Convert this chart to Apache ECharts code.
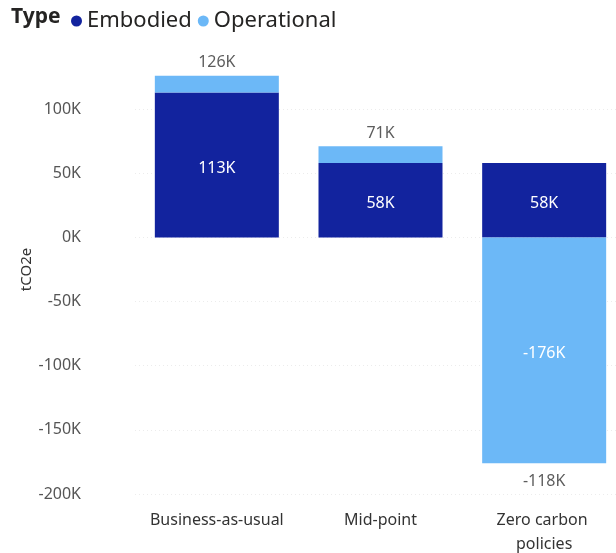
<!DOCTYPE html>
<html>
<head>
<meta charset="utf-8">
<script src="https://cdn.jsdelivr.net/npm/echarts@6/dist/echarts.min.js"></script>
<style>
  html, body { margin: 0; padding: 0; background: #fff; }
  #chart { width: 616px; height: 553px; }
</style>
</head>
<body>
<div id="chart"></div>
<script>
// Scenario emissions, tCO2e
const categories = ['Business-as-usual', 'Mid-point', 'Zero carbon policies'];
const embodied = [113000, 58000, 58000];
const operational = [13000, 13000, -176000];
const yTicks = [-200000, -150000, -100000, -50000, 0, 50000, 100000, 150000];

const FONT = '"Noto Sans", "Open Sans", sans-serif';
const DARK = '#12239E';
const LIGHT = '#6CB8F7';

const totals = categories.map((_, i) => embodied[i] + operational[i]);
// Where the total label sits: end of the positive or negative stack
const stackEnds = categories.map((_, i) => {
  const pos = Math.max(embodied[i], 0) + Math.max(operational[i], 0);
  const neg = Math.min(embodied[i], 0) + Math.min(operational[i], 0);
  return totals[i] >= 0 ? pos : neg;
});

const fmtK = v => Math.round(v / 1000) + 'K';

const insideLabel = {
  show: true, position: 'inside', color: '#fff', fontSize: 16, offset: [0, 3],
  formatter: p => Math.abs(p.value) >= 20000 ? fmtK(p.value) : ''
};

const chart = echarts.init(document.getElementById('chart'));
chart.setOption({
  animation: false,
  textStyle: { fontFamily: FONT },
  graphic: [{
    type: 'text', left: 11, top: 7,
    style: { text: 'Type', font: 'bold 21px ' + FONT, fill: '#252423' }
  }],
  legend: {
    left: 66, top: 5,
    itemWidth: 11, itemHeight: 11, itemGap: 6,
    icon: 'circle',
    data: ['Embodied', 'Operational'],
    textStyle: { fontSize: 22, color: '#252423', fontFamily: FONT }
  },
  grid: { left: 135, width: 491, top: 45, bottom: 59, outerBoundsMode: 'none', containLabel: false },
  xAxis: {
    type: 'category',
    data: categories,
    axisLine: { show: false, onZero: false },
    axisTick: { show: false },
    splitLine: { show: false },
    axisLabel: {
      margin: 14, fontSize: 16, color: '#333', lineHeight: 24,
      width: 145, overflow: 'break', interval: 0
    }
  },
  yAxis: {
    type: 'value',
    min: yTicks[0], max: yTicks[yTicks.length - 1], interval: 50000,
    name: 'tCO2e', nameLocation: 'middle', nameGap: 101, nameRotate: 90,
    nameMoveOverlap: false,
    nameTextStyle: { fontSize: 15, color: '#333' },
    axisLine: { show: false },
    axisTick: { show: false },
    axisLabel: {
      showMaxLabel: false, margin: 54, fontSize: 16, color: '#555',
      formatter: v => fmtK(v)
    },
    splitLine: { showMaxLine: false, lineStyle: { color: '#ececec', type: [1, 3], width: 1 } }
  },
  series: [
    {
      name: 'Embodied', type: 'bar', stack: 'total', barWidth: 124,
      itemStyle: { color: DARK },
      label: insideLabel,
      data: embodied
    },
    {
      name: 'Operational', type: 'bar', stack: 'total', barWidth: 124,
      itemStyle: { color: LIGHT },
      label: insideLabel,
      data: operational
    },
    {
      name: 'Total', type: 'scatter', symbolSize: 0, silent: true,
      data: stackEnds.map((v, i) => ({
        value: v,
        label: {
          show: true,
          position: totals[i] >= 0 ? 'top' : 'bottom',
          distance: totals[i] >= 0 ? 5 : 10,
          formatter: () => fmtK(totals[i]),
          color: '#333', fontSize: 16
        }
      }))
    }
  ]
});
</script>
</body>
</html>
